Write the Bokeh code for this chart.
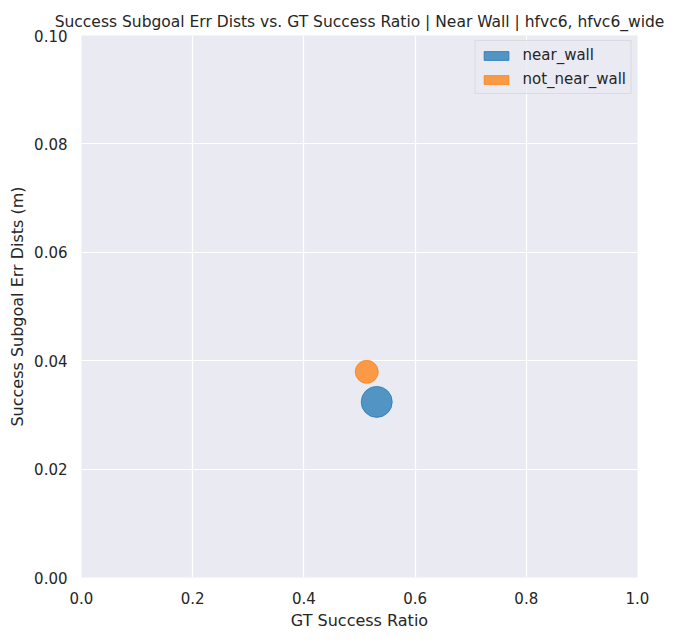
from bokeh.plotting import figure
from bokeh.models import ColumnDataSource, Legend, LegendItem, Range1d, FixedTicker
from bokeh.embed import file_html
from bokeh.resources import INLINE

# data
groups = ["near_wall", "not_near_wall"]
gt_success_ratio = [0.531, 0.513]
subgoal_err_dists = [0.03240, 0.03795]
colors = ["#1f77b4", "#ff7f0e"]
marker_sizes = [31, 23]

x_ticks = [0.0, 0.2, 0.4, 0.6, 0.8, 1.0]
y_ticks = [0.00, 0.02, 0.04, 0.06, 0.08, 0.10]

FONT = "DejaVu Sans"
TXT = "#262626"

W, H = 679, 632
p = figure(width=W, height=H, output_backend="svg", toolbar_location=None,
           x_range=Range1d(0, 1), y_range=Range1d(0, 0.1),
           min_border_left=81, min_border_right=42, min_border_top=35, min_border_bottom=55,
           title="Success Subgoal Err Dists vs. GT Success Ratio | Near Wall | hfvc6, hfvc6_wide")
p.title.text_font = FONT
p.title.text_font_size = "15.5px"
p.title.text_font_style = "normal"
p.title.text_color = TXT
p.title.align = "center"
p.title.standoff = 10

p.background_fill_color = "#eaeaf2"
p.border_fill_color = "white"
p.outline_line_color = None
for g in (p.xgrid, p.ygrid):
    g.grid_line_color = "white"
    g.grid_line_width = 1.2

p.xaxis.ticker = FixedTicker(ticks=x_ticks)
p.yaxis.ticker = FixedTicker(ticks=y_ticks)
p.xaxis.major_label_overrides = {t: f"{t:.1f}" for t in x_ticks}
p.yaxis.major_label_overrides = {t: f"{t:.2f}" for t in y_ticks}
for ax in (p.xaxis, p.yaxis):
    ax.axis_line_color = None
    ax.major_tick_line_color = None
    ax.minor_tick_line_color = None
    ax.major_tick_in = 0
    ax.major_tick_out = 0
    ax.minor_tick_in = 0
    ax.minor_tick_out = 0
    ax.major_label_text_font = FONT
    ax.major_label_text_font_size = "15px"
    ax.major_label_text_color = TXT
    ax.axis_label_text_font = FONT
    ax.axis_label_text_font_size = "16px"
    ax.axis_label_text_font_style = "normal"
    ax.axis_label_text_color = TXT
p.xaxis.axis_label = "GT Success Ratio"
p.yaxis.axis_label = "Success Subgoal Err Dists (m)"
p.xaxis.major_label_standoff = 14
p.yaxis.major_label_standoff = 14
p.xaxis.axis_label_standoff = 4
p.yaxis.axis_label_standoff = 4

nan = float("nan")
items = []
for i, g in enumerate(groups):
    src = ColumnDataSource(dict(x=[gt_success_ratio[i]], y=[subgoal_err_dists[i]]))
    p.scatter("x", "y", source=src, size=marker_sizes[i], fill_color=colors[i],
              line_color=colors[i], fill_alpha=0.75, line_alpha=0.75, line_width=1)
    dummy = p.quad(left=[nan], right=[nan], top=[nan], bottom=[nan], fill_color=colors[i],
                   line_color=colors[i], fill_alpha=0.75, line_alpha=0.75)
    items.append(LegendItem(label=g, renderers=[dummy], index=0))

legend = Legend(items=items, location="top_right")
legend.label_text_font = FONT
legend.label_text_font_size = "15px"
legend.label_text_color = TXT
legend.label_height = 17
legend.glyph_width = 31
legend.glyph_height = 11
legend.label_standoff = 11
legend.spacing = 6
legend.padding = 5
legend.margin = 5
legend.background_fill_color = "#eaeaf2"
legend.background_fill_alpha = 0.8
legend.border_line_color = "#cccccc"
legend.border_line_width = 1
p.add_layout(legend)

open("out.html", "w").write(file_html(p, INLINE))
